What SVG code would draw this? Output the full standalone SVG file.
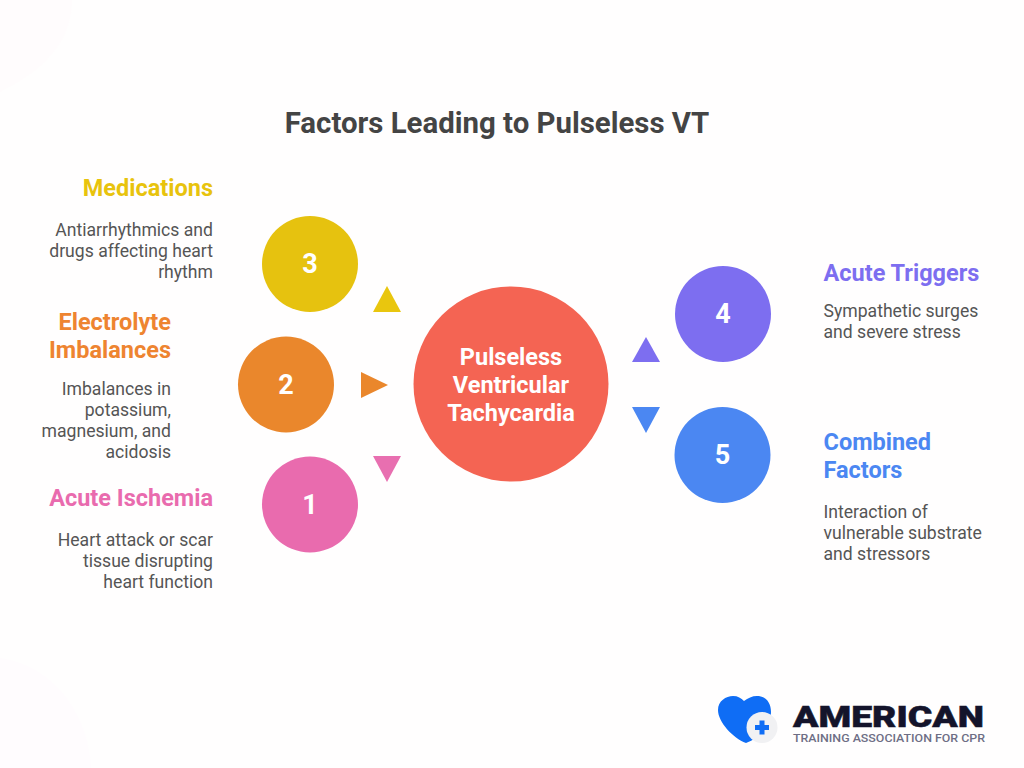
<svg xmlns="http://www.w3.org/2000/svg" width="1024" height="768" viewBox="0 0 1024 768">
<style>
text{font-family:Roboto,"Liberation Sans",sans-serif}
.t{font-size:29.4px;font-weight:700;fill:#444444;text-anchor:middle}
.h{font-size:23.500px;font-weight:700}
.b{font-size:17.600px;fill:#555555}
.e{text-anchor:end}
.n{font-size:27px;font-weight:700;fill:#ffffff;text-anchor:middle}
.c{font-size:23.500px;font-weight:700;fill:#ffffff;text-anchor:middle}
</style>
<rect width="1024" height="768" fill="#fffefe"/>
<g id="background">
<path d="M0 0H72C72 40 45 70 0 92Z" fill="#fffcfd"/>
<path d="M0 658C50 665 88 710 91 768H0Z" fill="#fffcfe"/>
</g>
<text class="t" x="497" y="133">Factors Leading to Pulseless VT</text>
<g id="connectors">
<polygon points="387,286 401,312 373,312" fill="#e9c60e"/>
<polygon points="388,385 361,372 361,398" fill="#ea872c"/>
<polygon points="387,482 373,456 401,456" fill="#e86fb0"/>
<polygon points="646,337 660,362 632,362" fill="#7d6ef0"/>
<polygon points="646,433 632,407 660,407" fill="#4b87f2"/>
</g>
<g id="center"><circle cx="511" cy="384" r="97.500" fill="#f46453"/>
<text class="c" x="511" y="365">Pulseless</text><text class="c" x="511" y="393">Ventricular</text><text class="c" x="511" y="421">Tachycardia</text></g>
<g id="node3"><circle cx="310" cy="264" r="48" fill="#e6c20f"/><text class="n" x="310" y="273">3</text>
<text class="h e" x="213" y="195.500" fill="#e8c30d">Medications</text>
<text class="b e" x="213" y="235.500">Antiarrhythmics and</text><text class="b e" x="213" y="256.500">drugs affecting heart</text><text class="b e" x="213" y="277.500">rhythm</text></g>
<g id="node2"><circle cx="286" cy="384.500" r="48" fill="#ea872c"/><text class="n" x="286" y="393.500">2</text>
<text class="h e" x="171" y="329.500" fill="#ee8430">Electrolyte</text><text class="h e" x="171" y="357.500" fill="#ee8430">Imbalances</text>
<text class="b e" x="171" y="394.500">Imbalances in</text><text class="b e" x="171" y="415.500">potassium,</text><text class="b e" x="171" y="436.500">magnesium, and</text><text class="b e" x="171" y="457.500">acidosis</text></g>
<g id="node1"><circle cx="310" cy="504.500" r="48" fill="#e96bae"/><text class="n" x="310" y="513.500">1</text>
<text class="h e" x="213" y="505.500" fill="#e96bae">Acute Ischemia</text>
<text class="b e" x="213" y="545.500">Heart attack or scar</text><text class="b e" x="213" y="566.500">tissue disrupting</text><text class="b e" x="213" y="587.500">heart function</text></g>
<g id="node4"><circle cx="723" cy="314" r="48" fill="#7d6ef0"/><text class="n" x="723" y="323">4</text>
<text class="h" x="823.500" y="280.500" fill="#7d6ef0">Acute Triggers</text>
<text class="b" x="823.500" y="316.500">Sympathetic surges</text><text class="b" x="823.500" y="337.500">and severe stress</text></g>
<g id="node5"><circle cx="722.500" cy="455" r="48" fill="#4b87f2"/><text class="n" x="722.500" y="464">5</text>
<text class="h" x="823.500" y="449.500" fill="#4b87f2">Combined</text><text class="h" x="823.500" y="477.500" fill="#4b87f2">Factors</text>
<text class="b" x="823.500" y="517.500">Interaction of</text><text class="b" x="823.500" y="538.500">vulnerable substrate</text><text class="b" x="823.500" y="559.500">and stressors</text></g>
<g id="logo">
<path d="M746 743C733 738 718 722 718 710C718 701 726 696 733 696C738 696 741 698 744 701C748 698 752 696 757 696C766 696 771 703 771 712C771 726 760 738 746 743Z" fill="#0f6df5"/>
<circle cx="762" cy="727.500" r="15.500" fill="#f1f1f3"/>
<path d="M759.500 720.500H764.500V725H769V730H764.500V734.500H759.500V730H755V725H759.500Z" fill="#0f6df5"/>
<text x="793" y="726.500" font-size="29" font-weight="900" fill="#14142b" stroke="#14142b" stroke-width="0.5" textLength="191" lengthAdjust="spacingAndGlyphs">AMERICAN</text>
<text x="793" y="741.500" font-size="11" font-weight="500" fill="#6e6e85" textLength="192" lengthAdjust="spacingAndGlyphs">TRAINING ASSOCIATION FOR CPR</text>
</g>
</svg>
